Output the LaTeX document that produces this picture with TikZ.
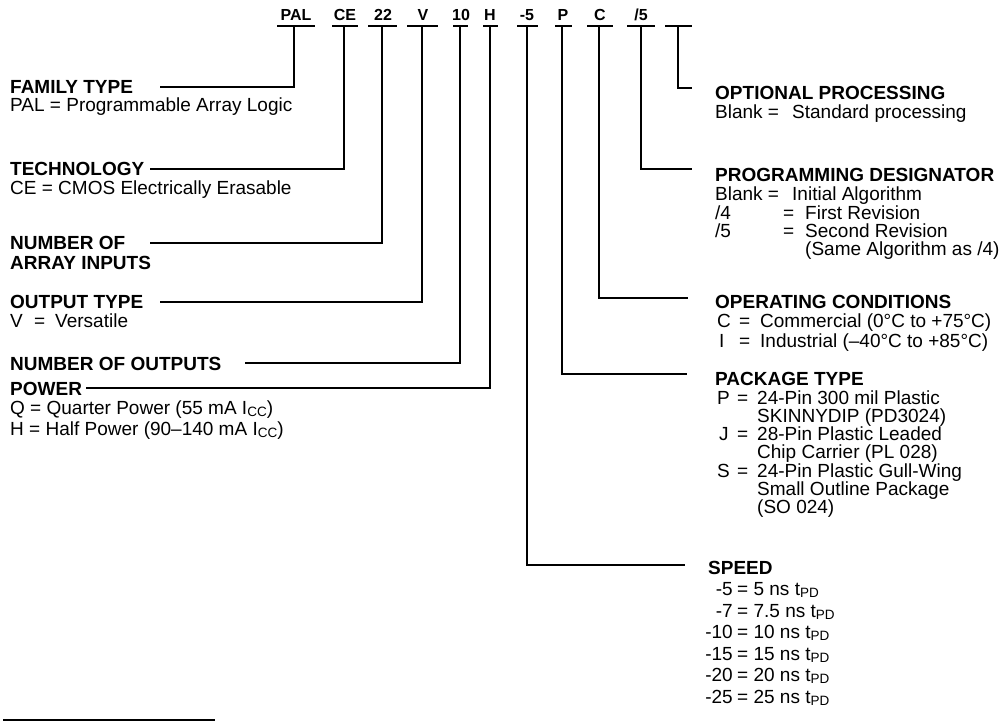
\documentclass[tikz,border=0pt]{standalone}
\usepackage{fontspec}
\setmainfont{Liberation Sans}
\newcommand\lowsc[1]{\raisebox{-0.25ex}{\fontsize{13.5bp}{13.5bp}\selectfont #1}}
\tikzset{
  code/.style={font=\fontsize{16bp}{16bp}\selectfont\bfseries, anchor=base, inner sep=0pt},
  head/.style={font=\fontsize{19bp}{19bp}\selectfont\bfseries, anchor=base west, inner sep=0pt},
  body/.style={font=\fontsize{19bp}{19bp}\selectfont, anchor=base west, inner sep=0pt},
  bodyr/.style={font=\fontsize{19bp}{19bp}\selectfont, anchor=base east, inner sep=0pt},
  conn/.style={line width=1.8bp},
  uline/.style={line width=1.8bp},
}
\begin{document}
\begin{tikzpicture}[x=1bp,y=-1bp]
\useasboundingbox (0,0) rectangle (1007,723);
\fill[white] (0,0) rectangle (1007,723);

% ---- code row ----
\node[code] (cPAL) at (296,21) {PAL};
\node[code] (cCE)  at (345,21) {CE};
\node[code] (c22)  at (383,21) {22};
\node[code] (cV)   at (423,21) {V};
\node[code] (c10)  at (461,21) {10};
\node[code] (cH)   at (490,21) {H};
\node[code] (c5)   at (527,21) {-5};
\node[code] (cP)   at (563,21) {P};
\node[code] (cC)   at (600,21) {C};
\node[code] (cS5)  at (641,21) {/5};

\draw[uline] (277,26) -- (315,26);
\draw[uline] (332,26) -- (358,26);
\draw[uline] (368,26) -- (397,26);
\draw[uline] (407,26) -- (438,26);
\draw[uline] (453,26) -- (468,26);
\draw[uline] (483,26) -- (498,26);
\draw[uline] (517,26) -- (538,26);
\draw[uline] (555,26) -- (572,26);
\draw[uline] (587,26) -- (613,26);
\draw[uline] (627,26) -- (655,26);
\draw[uline] (665,26) -- (692,26);

\coordinate (uPAL) at (294,26);
\coordinate (uCE)  at (344,26);
\coordinate (u22)  at (382,26);
\coordinate (uV)   at (422,26);
\coordinate (u10)  at (460,26);
\coordinate (uH)   at (490,26);
\coordinate (u5)   at (527,26);
\coordinate (uP)   at (562,26);
\coordinate (uC)   at (599,26);
\coordinate (uS5)  at (641,26);
\coordinate (uB)   at (678,26);

% ---- left labels ----
\node[head] (hFAM) at (10,94) {FAMILY TYPE};
\node[body] (bFAM) at (10,112) {PAL = Programmable Array Logic};
\node[head] (hTECH) at (10,176) {TECHNOLOGY};
\node[body] (bTECH) at (10,195) {CE = CMOS Electrically Erasable};
\node[head] (hNUM1) at (10,249) {NUMBER OF};
\node[head] (hNUM2) at (10,269) {ARRAY INPUTS};
\node[head] (hOUT) at (10,308) {OUTPUT TYPE};
\node[body] (bOUTk) at (10,327) {V};
\node[body] (bOUTe) at (34,327) {=};
\node[body] (bOUTt) at (55,327) {Versatile};
\node[head] (hNOUT) at (10,370) {NUMBER OF OUTPUTS};
\node[head] (hPOW) at (10,395) {POWER};
\node[body] (bPOW1) at (10,414) {Q = Quarter Power (55 mA I\lowsc{CC})};
\node[body] (bPOW2) at (10,435) {H = Half Power (90–140 mA I\lowsc{CC})};

\coordinate (eFAM)  at (160,87);
\coordinate (eTECH) at (150,169);
\coordinate (eNUM)  at (150,243);
\coordinate (eOUT)  at (160,302);
\coordinate (eNOUT) at (245,363);
\coordinate (ePOW)  at (86,388);

\draw[conn] (uPAL) |- (eFAM);
\draw[conn] (uCE) |- (eTECH);
\draw[conn] (u22) |- (eNUM);
\draw[conn] (uV) |- (eOUT);
\draw[conn] (u10) |- (eNOUT);
\draw[conn] (uH) |- (ePOW);

% ---- right labels ----
\node[head] (hOPT) at (715,100) {OPTIONAL PROCESSING};
\node[body] (bOPTk) at (715,119) {Blank =};
\node[body] (bOPTt) at (792,119) {Standard processing};

\node[head] (hPROG) at (715,182) {PROGRAMMING DESIGNATOR};
\node[body] (bPROG1k) at (715,201) {Blank =};
\node[body] (bPROG1t) at (792,201) {Initial Algorithm};
\node[body] (bPROG2k) at (715,219) {/4};
\node[body] (bPROG2e) at (783,219) {=};
\node[body] (bPROG2t) at (805,219) {First Revision};
\node[body] (bPROG3k) at (715,237) {/5};
\node[body] (bPROG3e) at (783,237) {=};
\node[body] (bPROG3t) at (805,237) {Second Revision};
\node[body] (bPROG4t) at (805,255) {(Same Algorithm as /4)};

\node[head] (hOPER) at (715,308) {OPERATING CONDITIONS};
\node[body] (bOPER1k) at (717,327) {C};
\node[body] (bOPER1e) at (739,327) {=};
\node[body] (bOPER1t) at (760,327) {Commercial (0°C to +75°C)};
\node[body] (bOPER2k) at (719,347) {I};
\node[body] (bOPER2e) at (739,347) {=};
\node[body] (bOPER2t) at (760,347) {Industrial (–40°C to +85°C)};

\node[head] (hPACK) at (715,385) {PACKAGE TYPE};
\node[body] (bP1k) at (717,404) {P};
\node[body] (bP1e) at (737,404) {=};
\node[body] (bP1t) at (757,404) {24-Pin 300 mil Plastic};
\node[body] (bP2t) at (757,422) {SKINNYDIP (PD3024)};
\node[body] (bP3k) at (719,440) {J};
\node[body] (bP3e) at (737,440) {=};
\node[body] (bP3t) at (757,440) {28-Pin Plastic Leaded};
\node[body] (bP4t) at (757,458) {Chip Carrier (PL 028)};
\node[body] (bP5k) at (717,477) {S};
\node[body] (bP5e) at (737,477) {=};
\node[body] (bP5t) at (757,477) {24-Pin Plastic Gull-Wing};
\node[body] (bP6t) at (757,495) {Small Outline Package};
\node[body] (bP7t) at (757,513) {(SO 024)};

\node[head] (hSPD) at (708,574) {SPEED};
\foreach \k/\v/\yy [count=\i] in {-5/5/595, -7/7.5/617, -10/10/638, -15/15/660, -20/20/681, -25/25/703}{
  \node[bodyr] (sK\i) at (733,\yy) {\k};
  \node[body] (sV\i) at (737,\yy) {= \v\ ns t\lowsc{PD}};
}

\coordinate (eOPT)  at (692,88);
\coordinate (ePROG) at (692,169);
\coordinate (eOPER) at (688,298);
\coordinate (ePACK) at (687,374);
\coordinate (eSPD)  at (685,565);

\draw[conn] (uB) |- (eOPT);
\draw[conn] (uS5) |- (ePROG);
\draw[conn] (uC) |- (eOPER);
\draw[conn] (uP) |- (ePACK);
\draw[conn] (u5) |- (eSPD);

% ---- footer rule ----
\coordinate (fL) at (3,720);
\coordinate (fR) at (215,720);
\draw[line width=1.5bp] (fL) -- (fR);
\end{tikzpicture}
\end{document}
